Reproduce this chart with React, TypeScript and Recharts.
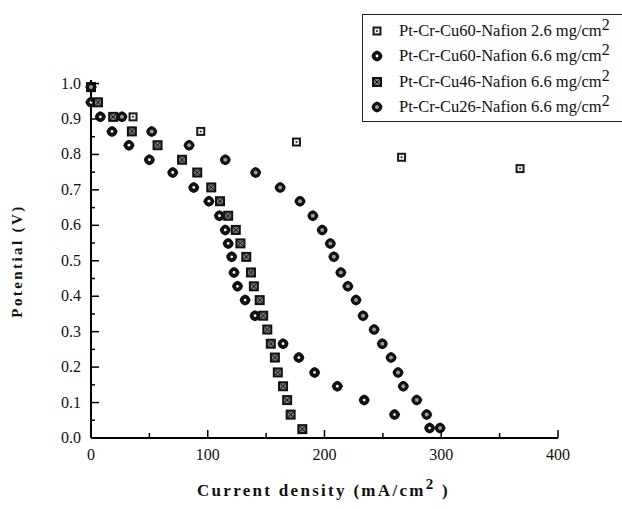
import { ScatterChart, Scatter, XAxis, YAxis, Legend } from "recharts";

const SERIF = "'Liberation Serif', 'Times New Roman', serif";

// Pt-Cr-Cu60-Nafion 2.6 mg/cm2 (open squares)
const cu60LowCurrent = [0, 6, 36, 94, 176, 266, 367.5];
const cu60LowPotential = [0.99, 0.947, 0.906, 0.865, 0.835, 0.792, 0.76];

// Pt-Cr-Cu60-Nafion 6.6 mg/cm2 (black diamonds)
const cu60Current = [0, 0, 8, 18, 32.5, 50, 70, 88, 101, 110, 115, 117.5, 120.5, 122.5, 125.5, 132, 140.5, 164.5, 178, 191.5, 211, 234, 260, 290];
const cu60Potential = [0.99, 0.947, 0.906, 0.865, 0.826, 0.785, 0.749, 0.707, 0.668, 0.627, 0.587, 0.549, 0.511, 0.467, 0.428, 0.389, 0.345, 0.266, 0.227, 0.185, 0.146, 0.107, 0.066, 0.028];

// Pt-Cr-Cu46-Nafion 6.6 mg/cm2 (hatched squares)
const cu46Current = [0, 6, 19, 35, 57, 78, 91, 103, 110.5, 117.5, 124, 128, 133, 137, 139.5, 144.5, 147.5, 151, 154, 157.5, 160, 164.5, 168, 171, 181];
const cu46Potential = [0.99, 0.947, 0.906, 0.865, 0.826, 0.785, 0.749, 0.707, 0.668, 0.627, 0.587, 0.549, 0.511, 0.467, 0.428, 0.389, 0.345, 0.306, 0.266, 0.227, 0.185, 0.146, 0.107, 0.066, 0.025];

// Pt-Cr-Cu26-Nafion 6.6 mg/cm2 (grey-centred diamonds)
const cu26Current = [0, 26.5, 52, 84, 115, 141, 162, 179, 190, 198, 205, 208, 214, 220, 227, 233, 242.5, 249.5, 257, 263, 267.5, 279, 287.5, 299];
const cu26Potential = [0.99, 0.906, 0.865, 0.826, 0.785, 0.749, 0.707, 0.668, 0.627, 0.587, 0.549, 0.511, 0.467, 0.428, 0.389, 0.345, 0.306, 0.266, 0.227, 0.185, 0.146, 0.107, 0.066, 0.028];

const xTicks = [0, 50, 100, 150, 200, 250, 300, 350, 400];
const yTicks = [0, 0.05, 0.1, 0.15, 0.2, 0.25, 0.3, 0.35, 0.4, 0.45, 0.5, 0.55, 0.6, 0.65, 0.7, 0.75, 0.8, 0.85, 0.9, 0.95, 1.0];

const toPoints = (xs: number[], ys: number[]) => xs.map((x, i) => ({ x, y: ys[i] }));

const OpenSquare = ({ cx, cy }: any) => (
  <g>
    <rect x={cx - 4.5} y={cy - 4.5} width={9} height={9} fill="#1a1a1a" />
    <rect x={cx - 2.5} y={cy - 2.5} width={5} height={5} fill="#eee" />
    <circle cx={cx} cy={cy} r={1} fill="#222" />
  </g>
);

const HatchSquare = ({ cx, cy }: any) => (
  <g>
    <rect x={cx - 5} y={cy - 5} width={10} height={10} fill="#111" />
    <rect x={cx - 3} y={cy - 3} width={6} height={6} fill="#777" />
    <path d={`M${cx - 3},${cy - 3}L${cx + 3},${cy + 3}M${cx + 3},${cy - 3}L${cx - 3},${cy + 3}`} stroke="#111" strokeWidth={1} />
  </g>
);

const Diamond = ({ cx, cy, centre }: any) => (
  <g>
    <path d={`M${cx},${cy - 5.5}Q${cx + 4.5},${cy - 4.5} ${cx + 5.5},${cy}Q${cx + 4.5},${cy + 4.5} ${cx},${cy + 5.5}Q${cx - 4.5},${cy + 4.5} ${cx - 5.5},${cy}Q${cx - 4.5},${cy - 4.5} ${cx},${cy - 5.5}Z`} fill="#111" />
    <circle cx={cx} cy={cy} r={centre === "grey" ? 2 : 1.4} fill={centre === "grey" ? "#999" : "#fff"} />
  </g>
);

const legendItems = [
  { label: "Pt-Cr-Cu60-Nafion 2.6 mg/cm", marker: "open" },
  { label: "Pt-Cr-Cu60-Nafion 6.6 mg/cm", marker: "black" },
  { label: "Pt-Cr-Cu46-Nafion 6.6 mg/cm", marker: "hatch" },
  { label: "Pt-Cr-Cu26-Nafion 6.6 mg/cm", marker: "grey" },
];

const LegendBox = () => (
  <div style={{ border: "1.5px solid #222", borderRight: "none", background: "#fff", width: 262, height: 108, paddingTop: 3, boxSizing: "border-box" }}>
    {legendItems.map((it) => (
      <div key={it.label} style={{ display: "flex", alignItems: "center", height: 25.5 }}>
        <svg width={30} height={20} style={{ marginLeft: 4 }}>
          {it.marker === "open" && <OpenSquare cx={10} cy={10} />}
          {it.marker === "hatch" && <HatchSquare cx={10} cy={10} />}
          {it.marker === "black" && <Diamond cx={10} cy={10} />}
          {it.marker === "grey" && <Diamond cx={10} cy={10} centre="grey" />}
        </svg>
        <span style={{ fontFamily: SERIF, fontSize: 16.5, color: "#111", marginLeft: 2, whiteSpace: "nowrap" }}>
          {it.label}
          <sup style={{ fontSize: 16, verticalAlign: "6px", lineHeight: 0 }}>2</sup>
        </span>
      </div>
    ))}
  </div>
);

const XTick = ({ x, y, payload }: any) => {
  const major = payload.value % 100 === 0;
  return (
    <g>
      <line x1={x} x2={x} y1={y} y2={y - (major ? 8 : 5)} stroke="#000" strokeWidth={1.5} />
      {major && (
        <text x={x} y={y + 22} textAnchor="middle" fontFamily={SERIF} fontSize={16} fill="#111">
          {payload.value}
        </text>
      )}
    </g>
  );
};

const TopTick = ({ x, y, payload }: any) => {
  const major = payload.value % 100 === 0;
  return <line x1={x} x2={x} y1={y} y2={y + (major ? 8 : 5)} stroke="#000" strokeWidth={1.5} />;
};

const YTick = ({ x, y, payload }: any) => {
  const major = Math.round(payload.value * 100) % 10 === 0;
  return (
    <g>
      <line x1={x} x2={x + (major ? 8 : 4)} y1={y} y2={y} stroke="#000" strokeWidth={1.5} />
      {major && (
        <text x={x - 10} y={y + 5} textAnchor="end" fontFamily={SERIF} fontSize={16} fill="#111">
          {payload.value.toFixed(1)}
        </text>
      )}
    </g>
  );
};

const XLabel = ({ viewBox }: any) => (
  <text x={viewBox.x + viewBox.width / 2 - 1} y={viewBox.y + 58} textAnchor="middle" fontFamily={SERIF} fontSize={17} fontWeight="bold" letterSpacing={2.3} fill="#111">
    Current density (mA/cm
    <tspan dy={-7} fontSize={15}>2</tspan>
    <tspan dy={7}> )</tspan>
  </text>
);

const YLabel = ({ viewBox }: any) => {
  const cx = 22;
  const cy = viewBox.y + viewBox.height / 2 + 2;
  return (
    <text x={cx} y={cy} transform={`rotate(-90 ${cx} ${cy})`} textAnchor="middle" fontFamily={SERIF} fontSize={15} fontWeight="bold" letterSpacing={2.4} fill="#111">
      Potential (V)
    </text>
  );
};

export default function App() {
  return (
    <div style={{ width: 622, height: 509, background: "#fff", position: "relative" }}>
      <style>{"body{margin:0}"}</style>
      <ScatterChart width={622} height={509} margin={{ top: 80, right: 64, bottom: 0, left: 0 }}>
        <XAxis
          type="number"
          dataKey="x"
          xAxisId="bottom"
          domain={[0, 400]}
          ticks={xTicks}
          height={71}
          tickSize={0}
          tickMargin={0}
          tickLine={false}
          tick={<XTick />}
          axisLine={{ stroke: "#000", strokeWidth: 2 }}
          label={<XLabel />}
          interval={0}
        />
        <XAxis
          type="number"
          xAxisId="top"
          orientation="top"
          domain={[0, 400]}
          ticks={xTicks}
          height={0}
          tickSize={0}
          tickMargin={0}
          tickLine={false}
          tick={<TopTick />}
          axisLine={{ stroke: "#000", strokeWidth: 2 }}
          interval={0}
        />
        <YAxis
          type="number"
          dataKey="y"
          yAxisId="left"
          domain={[0, 1.01]}
          ticks={yTicks}
          width={91}
          tickSize={0}
          tickMargin={0}
          tickLine={false}
          tick={<YTick />}
          axisLine={{ stroke: "#000", strokeWidth: 2 }}
          label={<YLabel />}
          interval={0}
        />
        <YAxis
          type="number"
          yAxisId="right"
          orientation="right"
          domain={[0, 1.01]}
          ticks={[]}
          width={0}
          tickLine={false}
          tick={false}
          axisLine={{ stroke: "#000", strokeWidth: 2 }}
        />
        <Legend
          layout="vertical"
          align="center"
          verticalAlign="middle"
          wrapperStyle={{ top: 14, left: 362, width: 262 }}
          content={() => <LegendBox />}
        />
        <Scatter name="Pt-Cr-Cu60-Nafion 2.6 mg/cm2" xAxisId="bottom" yAxisId="left" data={toPoints(cu60LowCurrent, cu60LowPotential)} shape={(p: any) => <OpenSquare {...p} />} isAnimationActive={false} />
        <Scatter name="Pt-Cr-Cu60-Nafion 6.6 mg/cm2" xAxisId="bottom" yAxisId="left" data={toPoints(cu60Current, cu60Potential)} shape={(p: any) => <Diamond {...p} />} isAnimationActive={false} />
        <Scatter name="Pt-Cr-Cu46-Nafion 6.6 mg/cm2" xAxisId="bottom" yAxisId="left" data={toPoints(cu46Current, cu46Potential)} shape={(p: any) => <HatchSquare {...p} />} isAnimationActive={false} />
        <Scatter name="Pt-Cr-Cu26-Nafion 6.6 mg/cm2" xAxisId="bottom" yAxisId="left" data={toPoints(cu26Current, cu26Potential)} shape={(p: any) => <Diamond {...p} centre="grey" />} isAnimationActive={false} />
      </ScatterChart>
    </div>
  );
}
